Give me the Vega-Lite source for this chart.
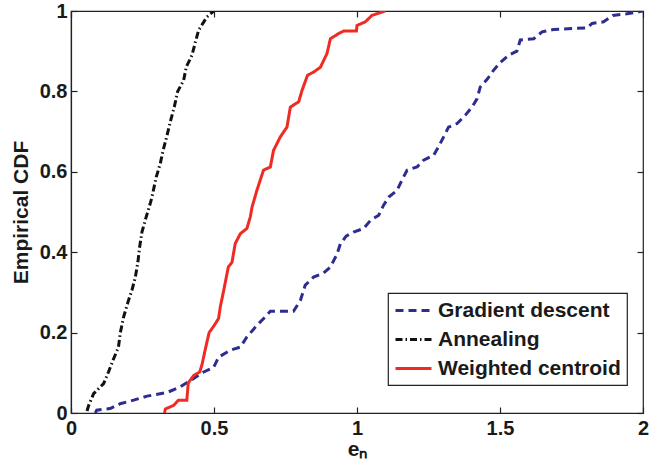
{
  "$schema": "https://vega.github.io/schema/vega-lite/v6.json",
  "width": 572,
  "height": 402,
  "autosize": "none",
  "padding": {"left": 71, "top": 11, "right": 6, "bottom": 54},
  "background": "white",
  "config": {
    "font": "Liberation Sans",
    "view": {"stroke": "#222", "strokeWidth": 1.2},
    "axis": {
      "grid": false,
      "domainColor": "#222",
      "domainWidth": 1.2,
      "tickColor": "#222",
      "tickWidth": 1.2,
      "tickSize": -6,
      "labelFont": "Liberation Sans",
      "labelFontWeight": "bold",
      "labelFontSize": 20,
      "labelColor": "#1a1a1a",
      "titleFont": "Liberation Sans",
      "titleFontWeight": "bold",
      "titleFontSize": 21,
      "titleColor": "#1a1a1a"
    },
    "legend": {
      "orient": "none",
      "legendX": 317,
      "legendY": 282,
      "strokeColor": "#222",
      "strokeWidth": 1.2,
      "fillColor": "white",
      "padding": 6,
      "labelFont": "Liberation Sans",
      "labelFontWeight": "bold",
      "labelFontSize": 21,
      "labelColor": "#1a1a1a",
      "labelLimit": 400,
      "symbolType": "M-1.8,0H1.8",
      "symbolSize": 400,
      "symbolOffset": 8,
      "symbolStrokeWidth": 3,
      "labelOffset": 13,
      "rowPadding": 7
    }
  },
  "data": {
    "values": [
      {"s": "Gradient descent", "i": 0, "x": 0.085, "y": 0.0},
      {"s": "Gradient descent", "i": 1, "x": 0.09, "y": 0.007},
      {"s": "Gradient descent", "i": 2, "x": 0.137, "y": 0.011},
      {"s": "Gradient descent", "i": 3, "x": 0.172, "y": 0.023},
      {"s": "Gradient descent", "i": 4, "x": 0.219, "y": 0.032},
      {"s": "Gradient descent", "i": 5, "x": 0.266, "y": 0.042},
      {"s": "Gradient descent", "i": 6, "x": 0.336, "y": 0.051},
      {"s": "Gradient descent", "i": 7, "x": 0.382, "y": 0.065},
      {"s": "Gradient descent", "i": 8, "x": 0.429, "y": 0.086},
      {"s": "Gradient descent", "i": 9, "x": 0.464, "y": 0.102},
      {"s": "Gradient descent", "i": 10, "x": 0.499, "y": 0.114},
      {"s": "Gradient descent", "i": 11, "x": 0.516, "y": 0.139},
      {"s": "Gradient descent", "i": 12, "x": 0.557, "y": 0.156},
      {"s": "Gradient descent", "i": 13, "x": 0.592, "y": 0.164},
      {"s": "Gradient descent", "i": 14, "x": 0.615, "y": 0.189},
      {"s": "Gradient descent", "i": 15, "x": 0.65, "y": 0.218},
      {"s": "Gradient descent", "i": 16, "x": 0.679, "y": 0.239},
      {"s": "Gradient descent", "i": 17, "x": 0.697, "y": 0.253},
      {"s": "Gradient descent", "i": 18, "x": 0.778, "y": 0.253},
      {"s": "Gradient descent", "i": 19, "x": 0.802, "y": 0.28},
      {"s": "Gradient descent", "i": 20, "x": 0.819, "y": 0.318},
      {"s": "Gradient descent", "i": 21, "x": 0.848, "y": 0.338},
      {"s": "Gradient descent", "i": 22, "x": 0.883, "y": 0.348},
      {"s": "Gradient descent", "i": 23, "x": 0.907, "y": 0.363},
      {"s": "Gradient descent", "i": 24, "x": 0.93, "y": 0.395},
      {"s": "Gradient descent", "i": 25, "x": 0.942, "y": 0.421},
      {"s": "Gradient descent", "i": 26, "x": 0.962, "y": 0.44},
      {"s": "Gradient descent", "i": 27, "x": 0.988, "y": 0.45},
      {"s": "Gradient descent", "i": 28, "x": 1.023, "y": 0.459},
      {"s": "Gradient descent", "i": 29, "x": 1.047, "y": 0.479},
      {"s": "Gradient descent", "i": 30, "x": 1.076, "y": 0.492},
      {"s": "Gradient descent", "i": 31, "x": 1.093, "y": 0.517},
      {"s": "Gradient descent", "i": 32, "x": 1.111, "y": 0.537},
      {"s": "Gradient descent", "i": 33, "x": 1.14, "y": 0.554},
      {"s": "Gradient descent", "i": 34, "x": 1.157, "y": 0.579},
      {"s": "Gradient descent", "i": 35, "x": 1.175, "y": 0.604},
      {"s": "Gradient descent", "i": 36, "x": 1.21, "y": 0.612},
      {"s": "Gradient descent", "i": 37, "x": 1.233, "y": 0.629},
      {"s": "Gradient descent", "i": 38, "x": 1.268, "y": 0.641},
      {"s": "Gradient descent", "i": 39, "x": 1.285, "y": 0.662},
      {"s": "Gradient descent", "i": 40, "x": 1.303, "y": 0.687},
      {"s": "Gradient descent", "i": 41, "x": 1.32, "y": 0.711},
      {"s": "Gradient descent", "i": 42, "x": 1.35, "y": 0.72},
      {"s": "Gradient descent", "i": 43, "x": 1.379, "y": 0.741},
      {"s": "Gradient descent", "i": 44, "x": 1.402, "y": 0.761},
      {"s": "Gradient descent", "i": 45, "x": 1.42, "y": 0.782},
      {"s": "Gradient descent", "i": 46, "x": 1.431, "y": 0.811},
      {"s": "Gradient descent", "i": 47, "x": 1.455, "y": 0.83},
      {"s": "Gradient descent", "i": 48, "x": 1.478, "y": 0.853},
      {"s": "Gradient descent", "i": 49, "x": 1.501, "y": 0.872},
      {"s": "Gradient descent", "i": 50, "x": 1.53, "y": 0.89},
      {"s": "Gradient descent", "i": 51, "x": 1.559, "y": 0.9},
      {"s": "Gradient descent", "i": 52, "x": 1.571, "y": 0.928},
      {"s": "Gradient descent", "i": 53, "x": 1.618, "y": 0.931},
      {"s": "Gradient descent", "i": 54, "x": 1.647, "y": 0.948},
      {"s": "Gradient descent", "i": 55, "x": 1.687, "y": 0.954},
      {"s": "Gradient descent", "i": 56, "x": 1.804, "y": 0.958},
      {"s": "Gradient descent", "i": 57, "x": 1.822, "y": 0.969},
      {"s": "Gradient descent", "i": 58, "x": 1.862, "y": 0.973},
      {"s": "Gradient descent", "i": 59, "x": 1.895, "y": 0.989},
      {"s": "Gradient descent", "i": 60, "x": 1.944, "y": 0.993},
      {"s": "Gradient descent", "i": 61, "x": 1.985, "y": 0.998},
      {"s": "Gradient descent", "i": 62, "x": 2.0, "y": 1.0},
      {"s": "Annealing", "i": 0, "x": 0.056, "y": 0.005},
      {"s": "Annealing", "i": 1, "x": 0.062, "y": 0.019},
      {"s": "Annealing", "i": 2, "x": 0.079, "y": 0.048},
      {"s": "Annealing", "i": 3, "x": 0.114, "y": 0.073},
      {"s": "Annealing", "i": 4, "x": 0.131, "y": 0.102},
      {"s": "Annealing", "i": 5, "x": 0.149, "y": 0.135},
      {"s": "Annealing", "i": 6, "x": 0.166, "y": 0.164},
      {"s": "Annealing", "i": 7, "x": 0.172, "y": 0.198},
      {"s": "Annealing", "i": 8, "x": 0.184, "y": 0.239},
      {"s": "Annealing", "i": 9, "x": 0.201, "y": 0.28},
      {"s": "Annealing", "i": 10, "x": 0.213, "y": 0.305},
      {"s": "Annealing", "i": 11, "x": 0.225, "y": 0.338},
      {"s": "Annealing", "i": 12, "x": 0.234, "y": 0.376},
      {"s": "Annealing", "i": 13, "x": 0.24, "y": 0.413},
      {"s": "Annealing", "i": 14, "x": 0.248, "y": 0.45},
      {"s": "Annealing", "i": 15, "x": 0.263, "y": 0.488},
      {"s": "Annealing", "i": 16, "x": 0.277, "y": 0.521},
      {"s": "Annealing", "i": 17, "x": 0.283, "y": 0.537},
      {"s": "Annealing", "i": 18, "x": 0.298, "y": 0.587},
      {"s": "Annealing", "i": 19, "x": 0.312, "y": 0.62},
      {"s": "Annealing", "i": 20, "x": 0.322, "y": 0.653},
      {"s": "Annealing", "i": 21, "x": 0.336, "y": 0.691},
      {"s": "Annealing", "i": 22, "x": 0.347, "y": 0.724},
      {"s": "Annealing", "i": 23, "x": 0.361, "y": 0.761},
      {"s": "Annealing", "i": 24, "x": 0.373, "y": 0.8},
      {"s": "Annealing", "i": 25, "x": 0.394, "y": 0.828},
      {"s": "Annealing", "i": 26, "x": 0.403, "y": 0.861},
      {"s": "Annealing", "i": 27, "x": 0.423, "y": 0.89},
      {"s": "Annealing", "i": 28, "x": 0.435, "y": 0.923},
      {"s": "Annealing", "i": 29, "x": 0.446, "y": 0.952},
      {"s": "Annealing", "i": 30, "x": 0.475, "y": 0.985},
      {"s": "Annealing", "i": 31, "x": 0.499, "y": 1.0},
      {"s": "Weighted centroid", "i": 0, "x": 0.327, "y": 0.0},
      {"s": "Weighted centroid", "i": 1, "x": 0.33, "y": 0.01},
      {"s": "Weighted centroid", "i": 2, "x": 0.359, "y": 0.019},
      {"s": "Weighted centroid", "i": 3, "x": 0.376, "y": 0.032},
      {"s": "Weighted centroid", "i": 4, "x": 0.405, "y": 0.032},
      {"s": "Weighted centroid", "i": 5, "x": 0.41, "y": 0.075},
      {"s": "Weighted centroid", "i": 6, "x": 0.43, "y": 0.094},
      {"s": "Weighted centroid", "i": 7, "x": 0.45, "y": 0.102},
      {"s": "Weighted centroid", "i": 8, "x": 0.458, "y": 0.12},
      {"s": "Weighted centroid", "i": 9, "x": 0.47, "y": 0.16},
      {"s": "Weighted centroid", "i": 10, "x": 0.483, "y": 0.2},
      {"s": "Weighted centroid", "i": 11, "x": 0.499, "y": 0.216},
      {"s": "Weighted centroid", "i": 12, "x": 0.516, "y": 0.235},
      {"s": "Weighted centroid", "i": 13, "x": 0.522, "y": 0.264},
      {"s": "Weighted centroid", "i": 14, "x": 0.534, "y": 0.305},
      {"s": "Weighted centroid", "i": 15, "x": 0.55, "y": 0.363},
      {"s": "Weighted centroid", "i": 16, "x": 0.563, "y": 0.375},
      {"s": "Weighted centroid", "i": 17, "x": 0.574, "y": 0.421},
      {"s": "Weighted centroid", "i": 18, "x": 0.592, "y": 0.446},
      {"s": "Weighted centroid", "i": 19, "x": 0.615, "y": 0.459},
      {"s": "Weighted centroid", "i": 20, "x": 0.627, "y": 0.488},
      {"s": "Weighted centroid", "i": 21, "x": 0.633, "y": 0.512},
      {"s": "Weighted centroid", "i": 22, "x": 0.65, "y": 0.554},
      {"s": "Weighted centroid", "i": 23, "x": 0.673, "y": 0.604},
      {"s": "Weighted centroid", "i": 24, "x": 0.697, "y": 0.612},
      {"s": "Weighted centroid", "i": 25, "x": 0.708, "y": 0.653},
      {"s": "Weighted centroid", "i": 26, "x": 0.732, "y": 0.687},
      {"s": "Weighted centroid", "i": 27, "x": 0.755, "y": 0.711},
      {"s": "Weighted centroid", "i": 28, "x": 0.767, "y": 0.761},
      {"s": "Weighted centroid", "i": 29, "x": 0.796, "y": 0.774},
      {"s": "Weighted centroid", "i": 30, "x": 0.808, "y": 0.803},
      {"s": "Weighted centroid", "i": 31, "x": 0.827, "y": 0.84},
      {"s": "Weighted centroid", "i": 32, "x": 0.848, "y": 0.848},
      {"s": "Weighted centroid", "i": 33, "x": 0.872, "y": 0.86},
      {"s": "Weighted centroid", "i": 34, "x": 0.895, "y": 0.894},
      {"s": "Weighted centroid", "i": 35, "x": 0.907, "y": 0.931},
      {"s": "Weighted centroid", "i": 36, "x": 0.936, "y": 0.944},
      {"s": "Weighted centroid", "i": 37, "x": 0.953, "y": 0.95},
      {"s": "Weighted centroid", "i": 38, "x": 0.998, "y": 0.95},
      {"s": "Weighted centroid", "i": 39, "x": 1.0, "y": 0.964},
      {"s": "Weighted centroid", "i": 40, "x": 1.029, "y": 0.973},
      {"s": "Weighted centroid", "i": 41, "x": 1.052, "y": 0.989},
      {"s": "Weighted centroid", "i": 42, "x": 1.099, "y": 1.0}
    ]
  },
  "layer": [
    {
      "mark": {"type": "line", "strokeWidth": 3, "clip": true, "strokeCap": "butt"},
      "encoding": {
        "x": {
          "field": "x", "type": "quantitative",
          "scale": {"domain": [0, 2], "nice": false, "zero": false},
          "axis": {"orient": "bottom", "values": [0, 0.5, 1, 1.5, 2], "format": "~g", "title": "eₙ", "labelPadding": 11, "titlePadding": 0, "labelFlush": false}
        },
        "y": {
          "field": "y", "type": "quantitative",
          "scale": {"domain": [0, 1], "nice": false},
          "axis": {"orient": "left", "values": [0, 0.2, 0.4, 0.6, 0.8, 1], "format": "~g", "title": "Empirical CDF", "labelPadding": 10, "titlePadding": 8, "labelFlush": false}
        },
        "color": {
          "field": "s", "type": "nominal",
          "scale": {"domain": ["Gradient descent", "Annealing", "Weighted centroid"], "range": ["#2d2d8f", "#111111", "#ee2c24"]},
          "legend": {"title": null}
        },
        "strokeDash": {
          "field": "s", "type": "nominal",
          "scale": {"domain": ["Gradient descent", "Annealing", "Weighted centroid"], "range": [[8, 5], [7, 3, 1.5, 3], [1, 0]]},
          "legend": {"title": null}
        },
        "order": {"field": "i", "type": "quantitative"}
      }
    },
    {
      "mark": {"type": "line", "opacity": 0},
      "encoding": {
        "x": {
          "field": "x", "type": "quantitative",
          "axis": {"orient": "top", "values": [0, 0.5, 1, 1.5, 2], "labels": false, "title": null, "domain": false}
        },
        "y": {
          "field": "y", "type": "quantitative",
          "axis": {"orient": "right", "values": [0, 0.2, 0.4, 0.6, 0.8, 1], "labels": false, "title": null, "domain": false}
        },
        "detail": {"field": "s", "type": "nominal"}
      }
    }
  ],
  "resolve": {"axis": {"x": "independent", "y": "independent"}}
}
